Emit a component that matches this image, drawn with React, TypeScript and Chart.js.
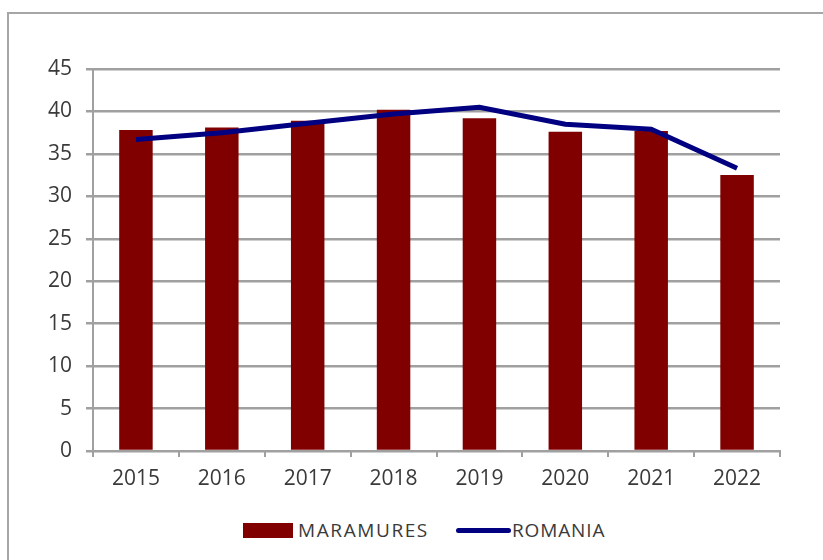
import React, { useEffect, useRef } from "react";
import { Chart, registerables } from "chart.js";

Chart.register(...registerables);

const years = ["2015", "2016", "2017", "2018", "2019", "2020", "2021", "2022"];
const maramures = [37.8, 38.1, 38.9, 40.2, 39.2, 37.6, 37.7, 32.5];
const romania = [36.7, 37.5, 38.6, 39.7, 40.5, 38.5, 37.9, 33.3];
const yMin = 0;
const yMax = 45;
const yStep = 5;

const FONT = "'Open Sans', 'Liberation Sans', sans-serif";
const TEXT = "#3a3a3a";
const GRID = "#a0a0a0";

export default function App() {
  const ref = useRef<HTMLCanvasElement | null>(null);

  useEffect(() => {
    if (!ref.current) return;
    const chart = new Chart(ref.current, {
      type: "bar",
      data: {
        labels: years,
        datasets: [
          {
            type: "line",
            label: "ROMANIA",
            data: romania,
            borderColor: "#000080",
            backgroundColor: "#000080",
            borderWidth: 5,
            pointRadius: 0,
            tension: 0,
            order: 0,
          },
          {
            type: "bar",
            label: "MARAMURES",
            data: maramures,
            backgroundColor: "#800000",
            categoryPercentage: 1,
            barPercentage: 0.39,
            order: 1,
          },
        ],
      },
      options: {
        animation: false,
        responsive: false,
        maintainAspectRatio: false,
        layout: { padding: { top: 69, right: 43, left: 0, bottom: 0 } },
        plugins: { legend: { display: false }, tooltip: { enabled: false } },
        scales: {
          x: {
            offset: true,
            grid: {
              offset: true,
              drawOnChartArea: false,
              drawTicks: true,
              tickLength: 6,
              color: GRID,
              lineWidth: 2,
            },
            border: { display: true, color: GRID, width: 2 },
            ticks: { color: TEXT, font: { family: FONT, size: 21 }, padding: 9 },
            afterFit: (s: any) => {
              s.height = 49;
            },
          },
          y: {
            min: yMin,
            max: yMax,
            ticks: {
              stepSize: yStep,
              color: TEXT,
              font: { family: FONT, size: 21 },
              padding: 14,
            },
            grid: { color: GRID, lineWidth: 2.5, tickLength: 7, drawTicks: true },
            border: { display: true, color: GRID, width: 2 },
            afterFit: (s: any) => {
              s.width = 93;
            },
          },
        },
      },
    });
    return () => chart.destroy();
  }, []);

  return (
    <div style={{ position: "absolute", left: 0, top: 0, width: 823, height: 560, overflow: "hidden", background: "#fff" }}>
      <div
        style={{
          position: "absolute",
          left: 7,
          top: 12,
          width: 840,
          height: 600,
          border: "2px solid #a6a6a6",
          boxSizing: "border-box",
        }}
      />
      <canvas ref={ref} width={823} height={500} style={{ position: "absolute", left: 0, top: 0, width: 823, height: 500 }} />
      <div
        style={{
          position: "absolute",
          top: 519,
          left: 243,
          display: "flex",
          alignItems: "center",
          fontFamily: FONT,
          fontSize: 19,
          color: TEXT,
          height: 22,
        }}
      >
        <span style={{ display: "inline-block", width: 50, height: 15, background: "#800000" }} />
        <span style={{ marginLeft: 5, letterSpacing: 1.6 }}>MARAMURES</span>
        <span style={{ display: "inline-block", width: 55, height: 5, borderRadius: 3, background: "#000080", marginLeft: 27 }} />
        <span style={{ marginLeft: 1, letterSpacing: 0.9 }}>ROMANIA</span>
      </div>
    </div>
  );
}
